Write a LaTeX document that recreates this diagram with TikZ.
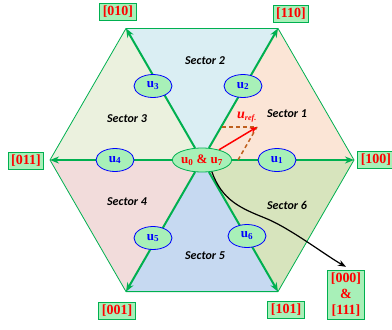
\documentclass[tikz,border=0pt]{standalone}
\usepackage{fontspec}
\setmainfont{Liberation Serif}
\newfontfamily\sectorfont{Carlito}
\usetikzlibrary{positioning,arrows.meta,shapes.geometric}
\definecolor{spokegreen}{RGB}{0,176,80}
\definecolor{cellfill}{RGB}{168,240,184}
\definecolor{secA}{RGB}{251,229,214}
\definecolor{secB}{RGB}{218,238,243}
\definecolor{secC}{RGB}{235,241,222}
\definecolor{secD}{RGB}{242,220,219}
\definecolor{secE}{RGB}{198,217,241}
\definecolor{secF}{RGB}{215,228,189}
\definecolor{dashbrown}{RGB}{191,96,30}

\begin{document}
\begin{tikzpicture}[
    x=1pt, y=-1pt,
    spoke/.style={-{Stealth[length=9pt,width=7pt]}, line width=2pt, draw=spokegreen},
    hex_edge/.style={draw=spokegreen, line width=0.8pt},
    vec_ell/.style={ellipse, draw=blue, fill=cellfill, line width=0.8pt, minimum width=38pt, minimum height=23pt, inner sep=0pt, text=blue, font=\bfseries\fontsize{13}{15}\selectfont},
    zero_ell/.style={ellipse, draw=spokegreen, fill=cellfill, line width=0.8pt, minimum width=50pt, minimum height=24pt, inner sep=0pt, text=red, font=\bfseries\fontsize{13}{15}\selectfont},
    state_box/.style={draw=spokegreen, fill=cellfill, line width=0.8pt, text=red, font=\bfseries\fontsize{14}{16}\selectfont, inner sep=3pt, align=center},
    sec_lbl/.style={font=\sectorfont\bfseries\itshape\fontsize{12}{14}\selectfont},
    dash_line/.style={draw=dashbrown, line width=1.5pt, dash pattern=on 4pt off 3pt},
    ref_arrow/.style={-{Stealth[length=7pt,width=6pt]}, line width=1.5pt, draw=red},
    curve_arrow/.style={-{Stealth[length=8pt,width=6pt]}, line width=1.2pt, draw=black}
]
\useasboundingbox (0,0) rectangle (392,330);

% hexagon corners
\coordinate (o)    at (202,160);
\coordinate (v100) at (354,160);
\coordinate (v110) at (278,28.4);
\coordinate (v010) at (126,28.4);
\coordinate (v011) at (50,160);
\coordinate (v001) at (126,291.6);
\coordinate (v101) at (278,291.6);

% sectors
\fill[secA] (o) -- (v100) -- (v110) -- cycle;
\fill[secB] (o) -- (v110) -- (v010) -- cycle;
\fill[secC] (o) -- (v010) -- (v011) -- cycle;
\fill[secD] (o) -- (v011) -- (v001) -- cycle;
\fill[secE] (o) -- (v001) -- (v101) -- cycle;
\fill[secF] (o) -- (v101) -- (v100) -- cycle;
\draw[hex_edge] (v100) -- (v110) -- (v010) -- (v011) -- (v001) -- (v101) -- cycle;

\node[sec_lbl] (s1) at (287,114) {Sector 1};
\node[sec_lbl] (s2) at (205,61)  {Sector 2};
\node[sec_lbl] (s3) at (127,119) {Sector 3};
\node[sec_lbl] (s4) at (127,202) {Sector 4};
\node[sec_lbl] (s5) at (205,256) {Sector 5};
\node[sec_lbl] (s6) at (287,205) {Sector 6};

\node[zero_ell] (ctr) at (o) {u\textsubscript{0} \& u\textsubscript{7}};

% active vectors
\draw[spoke] (ctr) -- (v100);
\draw[spoke] (ctr) -- (v110);
\draw[spoke] (ctr) -- (v010);
\draw[spoke] (ctr) -- (v011);
\draw[spoke] (ctr) -- (v001);
\draw[spoke] (ctr) -- (v101);

\node[vec_ell] (u1) at (277,160) {u\textsubscript{1}};
\node[vec_ell] (u2) at (243,86)  {u\textsubscript{2}};
\node[vec_ell] (u3) at (153,86)  {u\textsubscript{3}};
\node[vec_ell] (u4) at (115,160) {u\textsubscript{4}};
\node[vec_ell] (u5) at (153,238) {u\textsubscript{5}};
\node[vec_ell] (u6) at (247,236) {u\textsubscript{6}};

% reference vector
\coordinate (uref)   at (257,127);
\coordinate (dash_h) at (222,127);
\coordinate (dash_v) at (238,160);
\draw[dash_line] (dash_h) -- (uref);
\draw[dash_line] (dash_v) -- (uref);
\draw[ref_arrow] (ctr) -- (uref);
\node[text=red, font=\bfseries\itshape\fontsize{14}{16}\selectfont] (ureflbl) at (247,117) {u\textsubscript{\footnotesize ref.}};

% switching states
\node[state_box] (b010) at (118,12)  {[010]};
\node[state_box] (b110) at (291,14)  {[110]};
\node[state_box] (b011) at (26,161)  {[011]};
\node[state_box] (b100) at (376,160) {[100]};
\node[state_box] (b001) at (117,311) {[001]};
\node[state_box] (b101) at (286,310) {[101]};
\node[state_box] (b000) at (346,295) {[000]\\\&\\{}[111]};

\draw[curve_arrow] (ctr.-50) .. controls (222,200) and (240,208) .. (265,218)
    .. controls (290,228) and (325,255) .. ([yshift=3pt]b000.north);

\end{tikzpicture}
\end{document}
